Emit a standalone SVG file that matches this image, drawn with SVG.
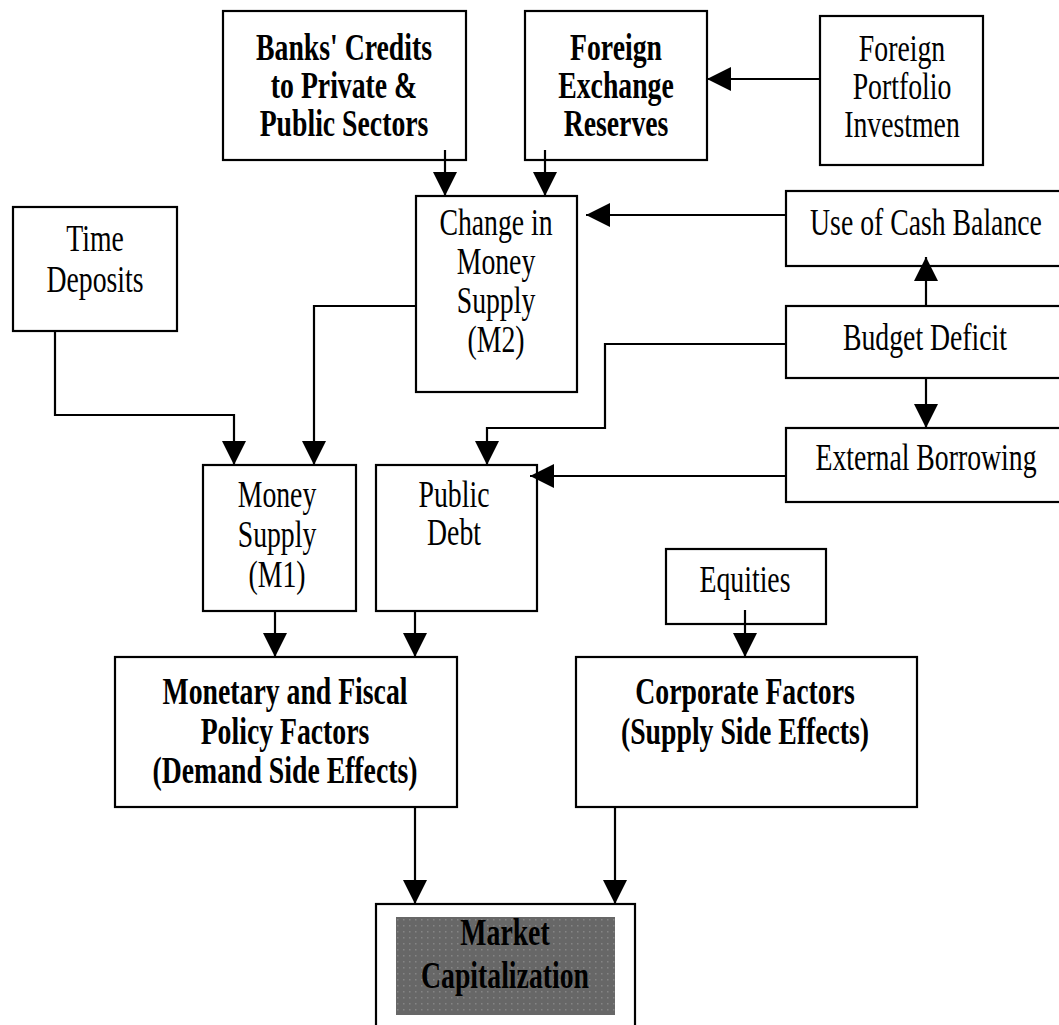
<svg xmlns="http://www.w3.org/2000/svg" width="1059" height="1025" viewBox="0 0 1059 1025">
<style>
.box{fill:#fff;stroke:#000;stroke-width:2.2}
.t{font-family:"Liberation Serif","Times New Roman",serif;font-size:37px;fill:#000;text-anchor:middle}
.b{font-weight:bold}
.c{fill:none;stroke:#000;stroke-width:2.2;marker-end:url(#ah)}
</style>
<defs>
<marker id="ah" markerUnits="userSpaceOnUse" viewBox="0 0 24 24" refX="24" refY="12" markerWidth="24" markerHeight="24" orient="auto">
<path d="M0,0 L24,12 L0,24 Z" fill="#000"/>
</marker>
<pattern id="dots" width="6" height="6" patternUnits="userSpaceOnUse">
<rect width="6" height="6" fill="#676767"/>
<rect x="1" y="1" width="1.5" height="1.5" fill="#858585"/>
</pattern>
</defs>
<rect width="1059" height="1025" fill="#fff"/>

<g id="banks"><rect class="box" x="223" y="11" width="243" height="149"/>
<text class="t b" transform="translate(344,0) scale(0.75,1)"><tspan x="0" y="60">Banks' Credits</tspan><tspan x="0" y="98">to Private &amp;</tspan><tspan x="0" y="136">Public Sectors</tspan></text></g>

<g id="fer"><rect class="box" x="525" y="11" width="182" height="149"/>
<text class="t b" transform="translate(616,0) scale(0.75,1)"><tspan x="0" y="60">Foreign</tspan><tspan x="0" y="98">Exchange</tspan><tspan x="0" y="136">Reserves</tspan></text></g>

<g id="fpi"><rect class="box" x="820" y="16" width="163" height="149"/>
<text class="t" transform="translate(902,0) scale(0.75,1)"><tspan x="0" y="61">Foreign</tspan><tspan x="0" y="99">Portfolio</tspan><tspan x="0" y="137">Investmen</tspan></text></g>

<g id="time"><rect class="box" x="13" y="207" width="164" height="124"/>
<text class="t" transform="translate(95,0) scale(0.75,1)"><tspan x="0" y="251">Time</tspan><tspan x="0" y="292">Deposits</tspan></text></g>

<g id="m2"><rect class="box" x="416" y="196" width="161" height="196"/>
<text class="t" transform="translate(496,0) scale(0.75,1)"><tspan x="0" y="235">Change in</tspan><tspan x="0" y="274">Money</tspan><tspan x="0" y="313">Supply</tspan><tspan x="0" y="352">(M2)</tspan></text></g>

<g id="cash"><rect class="box" x="786" y="191" width="280" height="75"/>
<text class="t" transform="translate(926,0) scale(0.75,1)"><tspan x="0" y="235">Use of Cash Balance</tspan></text></g>

<g id="budget"><rect class="box" x="786" y="306" width="280" height="72"/>
<text class="t" transform="translate(925,0) scale(0.75,1)"><tspan x="0" y="350">Budget Deficit</tspan></text></g>

<g id="external"><rect class="box" x="786" y="428" width="280" height="74"/>
<text class="t" transform="translate(926,0) scale(0.75,1)"><tspan x="0" y="470">External Borrowing</tspan></text></g>

<g id="m1"><rect class="box" x="203" y="465" width="153" height="146"/>
<text class="t" transform="translate(277,0) scale(0.75,1)"><tspan x="0" y="507">Money</tspan><tspan x="0" y="547">Supply</tspan><tspan x="0" y="587">(M1)</tspan></text></g>

<g id="debt"><rect class="box" x="376" y="465" width="161" height="146"/>
<text class="t" transform="translate(454,0) scale(0.75,1)"><tspan x="0" y="507">Public</tspan><tspan x="0" y="545">Debt</tspan></text></g>

<g id="equities"><rect class="box" x="666" y="549" width="160" height="75"/>
<text class="t" transform="translate(745,0) scale(0.75,1)"><tspan x="0" y="592">Equities</tspan></text></g>

<g id="monetary"><rect class="box" x="115" y="657" width="342" height="150"/>
<text class="t b" transform="translate(285,0) scale(0.75,1)"><tspan x="0" y="704">Monetary and Fiscal</tspan><tspan x="0" y="744">Policy Factors</tspan><tspan x="0" y="783">(Demand Side Effects)</tspan></text></g>

<g id="corporate"><rect class="box" x="576" y="657" width="341" height="150"/>
<text class="t b" transform="translate(745,0) scale(0.75,1)"><tspan x="0" y="704">Corporate Factors</tspan><tspan x="0" y="744">(Supply Side Effects)</tspan></text></g>

<g id="market"><rect class="box" x="376" y="904" width="259" height="130"/>
<rect x="396" y="917" width="219" height="98" fill="url(#dots)"/>
<text class="t b" transform="translate(505,0) scale(0.75,1)"><tspan x="0" y="945">Market</tspan><tspan x="0" y="988">Capitalization</tspan></text></g>

<g id="connectors">
<path class="c" d="M445,150 V196"/>
<path class="c" d="M545,150 V196"/>
<path class="c" d="M820,79 H707"/>
<path class="c" d="M786,215 H586"/>
<path class="c" d="M926,306 V257"/>
<path class="c" d="M926,378 V428"/>
<path class="c" d="M786,344 H605 V428 H487 V465"/>
<path class="c" d="M786,476 H530"/>
<path class="c" d="M416,306 H314 V465"/>
<path class="c" d="M55,331 V415 H234 V465"/>
<path class="c" d="M275,611 V657"/>
<path class="c" d="M415,611 V657"/>
<path class="c" d="M745,610 V657"/>
<path class="c" d="M415,807 V904"/>
<path class="c" d="M615,807 V904"/>
</g>
</svg>
